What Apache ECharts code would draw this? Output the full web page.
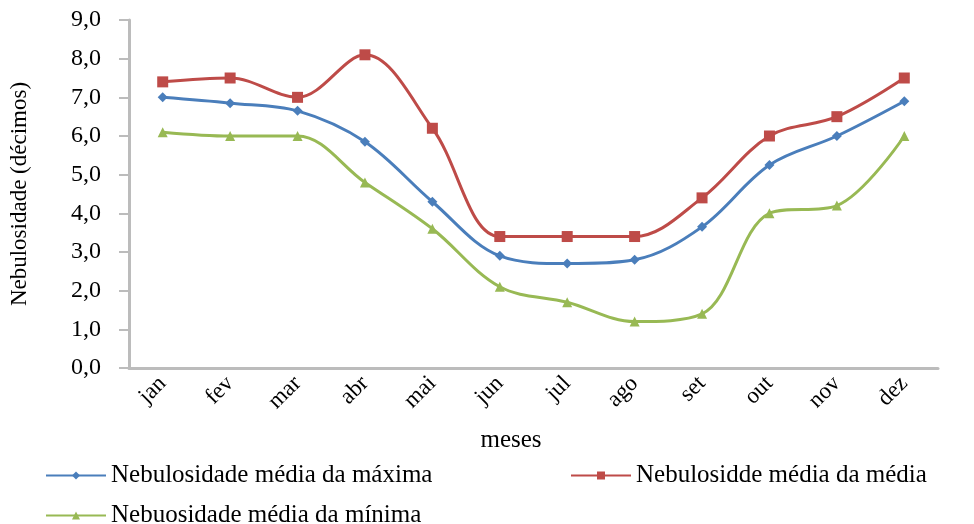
<!DOCTYPE html>
<html>
<head>
<meta charset="utf-8">
<script src="https://cdn.jsdelivr.net/npm/echarts@6/dist/echarts.min.js"></script>
<style>
  html, body { margin: 0; padding: 0; background: #fff; }
  #main { width: 974px; height: 524px; }
</style>
</head>
<body>
<div id="main"></div>
<script type="text/javascript">
    var meses = ['jan', 'fev', 'mar', 'abr', 'mai', 'jun', 'jul', 'ago', 'set', 'out', 'nov', 'dez'];
    var maxima = [7.0, 6.85, 6.65, 5.85, 4.3, 2.9, 2.7, 2.8, 3.65, 5.25, 6.0, 6.9];
    var media = [7.4, 7.5, 7.0, 8.1, 6.2, 3.4, 3.4, 3.4, 4.4, 6.0, 6.5, 7.5];
    var minima = [6.1, 6.0, 6.0, 4.8, 3.6, 2.1, 1.7, 1.2, 1.4, 4.0, 4.2, 6.0];

    var nomeMax = 'Nebulosidade média da máxima';
    var nomeMed = 'Nebulosidde média da média';
    var nomeMin = 'Nebuosidade média da mínima';

    var fonte = 'Liberation Serif, Times New Roman, serif';
    var myChart = echarts.init(document.getElementById('main'));

    function serie(nome, dados, cor, simbolo, tam) {
        return {
            name: nome,
            type: 'line',
            smooth: 0.35,
            data: dados,
            symbol: simbolo,
            symbolSize: tam,
            lineStyle: { color: cor, width: 3 },
            itemStyle: { color: cor },
            animation: false
        };
    }

    // uma legenda por item para posicionar como no original
    function legenda(nome, x, y) {
        return {
            data: [nome],
            left: x, top: y,
            itemWidth: 60, itemHeight: 10, itemGap: 6,
            textStyle: { fontFamily: fonte, fontSize: 25, color: '#000' }
        };
    }

    myChart.setOption({
        textStyle: { fontFamily: fonte },
        grid: { left: 128, right: 36, top: 20, bottom: 156 },
        legend: [
            legenda(nomeMax, 40, 458),
            legenda(nomeMed, 565, 458),
            legenda(nomeMin, 40, 498)
        ],
        xAxis: {
            type: 'category',
            data: meses,
            boundaryGap: true,
            name: 'meses',
            nameLocation: 'middle',
            nameGap: 60,
            nameTextStyle: { fontFamily: fonte, fontSize: 25, color: '#000', padding: [0, 45, 0, 0] },
            axisLine: { lineStyle: { color: '#bcbcbc', width: 3 } },
            axisTick: { show: false },
            axisLabel: { rotate: 45, fontFamily: fonte, fontSize: 23, color: '#000', margin: 12 }
        },
        yAxis: {
            type: 'value',
            min: 0, max: 9, interval: 1,
            name: 'Nebulosidade (décimos)',
            nameLocation: 'middle',
            nameGap: 98,
            nameTextStyle: { fontFamily: fonte, fontSize: 23, color: '#000' },
            axisLine: { show: true, lineStyle: { color: '#bcbcbc', width: 3 } },
            axisTick: { show: true, length: 10, lineStyle: { color: '#bcbcbc', width: 2 } },
            splitLine: { show: false },
            axisLabel: {
                fontFamily: fonte, fontSize: 24, color: '#000', margin: 28,
                formatter: function (v) { return v.toFixed(1).replace('.', ','); }
            }
        },
        series: [
            serie(nomeMax, maxima, '#4a7ebb', 'diamond', 10),
            serie(nomeMed, media, '#be4b48', 'rect', 11),
            serie(nomeMin, minima, '#98b954', 'triangle', 10)
        ]
    });
</script>
</body>
</html>
